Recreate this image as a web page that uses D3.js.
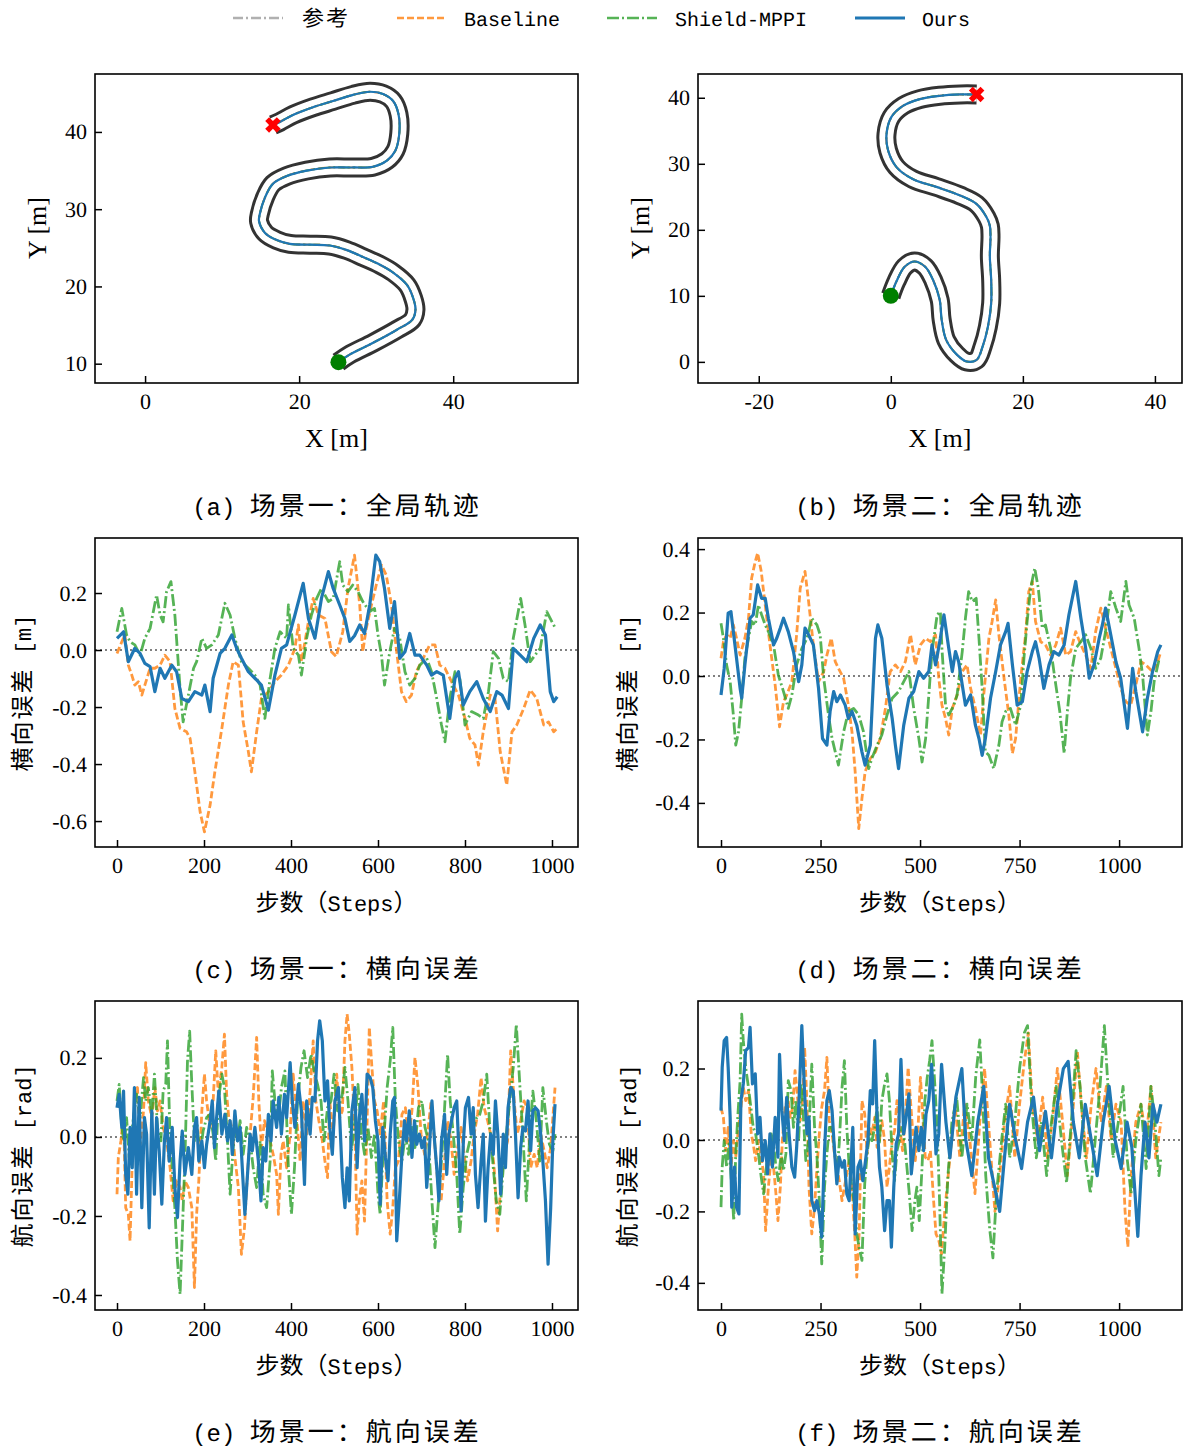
<!DOCTYPE html>
<html>
<head>
<meta charset="utf-8">
<script src="https://cdn.jsdelivr.net/npm/d3@7"></script>
<style>
body { margin: 0; background: #fff; }
text { text-rendering: geometricPrecision; }
</style>
</head>
<body>
<svg id="fig" width="1184" height="1448"></svg>
<script>
// ---- legend / captions ----
const legendLabels = ['参考', 'Baseline', 'Shield-MPPI', 'Ours'];
const captionTags = ['(a)', '(b)', '(c)', '(d)', '(e)', '(f)'];
const captionTexts = ['场景一：全局轨迹', '场景二：全局轨迹', '场景一：横向误差', '场景二：横向误差', '场景一：航向误差', '场景二：航向误差'];

// ---- tick values ----
const trajXTicks1 = [0, 20, 40];
const trajYTicks1 = [10, 20, 30, 40];
const trajXTicks2 = [-20, 0, 20, 40];
const trajYTicks2 = [0, 10, 20, 30, 40];
const stepTicks1 = [0, 200, 400, 600, 800, 1000];
const stepTicks2 = [0, 250, 500, 750, 1000];
const latTicks1 = [-0.6, -0.4, -0.2, 0, 0.2];
const latTicks2 = [-0.4, -0.2, 0, 0.2, 0.4];
const hdgTicks = [-0.4, -0.2, 0, 0.2];

// ---- track centrelines [x, y] in m ----
const track1 = [[25.1,10.2],[26.6,11.2],[29.6,12.7],[32.7,14.4],[34.7,15.7],[35.1,17.0],[34.8,18.5],[34.0,20.2],[32.2,21.8],[30.5,22.8],[28.3,23.8],[26.2,24.7],[24.0,25.3],[21.4,25.4],[18.8,25.5],[17.1,26.0],[15.6,26.9],[14.8,28.4],[14.9,29.4],[15.6,31.6],[16.6,33.3],[18.4,34.3],[21.0,35.0],[24.0,35.4],[27.0,35.4],[29.6,35.5],[31.4,36.3],[32.5,37.6],[33.0,39.8],[32.9,42.3],[32.2,44.0],[30.9,44.9],[29.2,45.2],[27.0,44.8],[24.4,44.0],[21.8,43.2],[19.2,42.2],[17.5,41.3],[16.6,40.9]];
const track2 = [[0.0,10.0],[0.86,12.2],[2.1,14.4],[3.6,15.2],[5.2,14.4],[6.4,12.4],[7.4,9.4],[7.7,6.4],[8.4,3.3],[10.0,1.1],[11.5,0.05],[13.0,0.3],[13.9,2.3],[14.7,5.3],[15.2,8.9],[15.2,12.4],[15.0,16.0],[15.1,19.0],[15.0,20.6],[14.5,21.9],[13.0,23.9],[10.5,25.2],[6.9,26.5],[3.3,27.7],[0.86,29.5],[-0.4,32.0],[-0.65,34.5],[0.1,37.1],[1.9,38.8],[4.4,39.8],[7.4,40.3],[10.5,40.5],[13.0,40.5]];

// ---- lateral error [step, m] ----
const lat1Ours = [[0,0.041],[15,0.064],[26,-0.041],[41,0.006],[53,-0.012],[64,-0.047],[76,-0.058],[87,-0.146],[99,-0.064],[110,-0.099],[126,-0.053],[137,-0.076],[149,-0.170],[164,-0.181],[179,-0.146],[195,-0.158],[202,-0.123],[214,-0.216],[221,-0.099],[237,-0.012],[248,0.006],[264,0.053],[275,0.006],[286,-0.029],[302,-0.076],[317,-0.099],[332,-0.123],[348,-0.211],[363,-0.088],[378,0.006],[390,0.018],[409,0.123],[428,0.234],[440,0.111],[455,0.041],[470,0.181],[486,0.275],[497,0.216],[512,0.158],[524,0.11],[535,0.03],[546,0.05],[558,0.088],[569,0.058],[581,0.158],[595,0.333],[604,0.31],[615,0.216],[627,0.076],[638,0.170],[650,-0.029],[662,-0.006],[673,0.058],[685,-0.018],[696,-0.018],[712,-0.053],[723,-0.088],[735,-0.076],[750,-0.088],[765,-0.240],[777,-0.099],[785,-0.076],[796,-0.193],[811,-0.146],[827,-0.111],[842,-0.170],[858,-0.216],[873,-0.146],[885,-0.158],[900,-0.205],[911,0.006],[927,-0.018],[942,-0.041],[958,0.041],[973,0.088],[985,0.053],[996,-0.146],[1004,-0.181],[1012,-0.164]];
const lat1Base = [[0,-0.012],[11,0.029],[18,0.053],[26,-0.053],[34,-0.088],[41,-0.123],[49,-0.111],[57,-0.158],[64,-0.123],[76,-0.064],[87,-0.064],[99,-0.053],[110,-0.018],[122,-0.041],[133,-0.205],[145,-0.275],[160,-0.287],[168,-0.310],[179,-0.427],[191,-0.567],[201,-0.638],[214,-0.544],[225,-0.427],[241,-0.275],[256,-0.123],[267,-0.041],[279,-0.053],[290,-0.252],[302,-0.357],[309,-0.427],[321,-0.287],[332,-0.170],[348,-0.146],[363,-0.111],[378,-0.088],[394,-0.053],[409,0.006],[417,0.088],[424,-0.041],[440,0.099],[451,0.181],[463,0.123],[478,0.111],[493,-0.006],[504,-0.023],[519,0.064],[531,0.216],[546,0.333],[550,0.275],[558,0.158],[565,-0.006],[573,0.076],[585,0.158],[596,0.228],[608,0.298],[619,0.263],[631,0.158],[642,0.006],[654,-0.146],[665,-0.181],[677,-0.158],[688,-0.076],[704,-0.029],[719,0.018],[731,0.018],[742,-0.053],[754,-0.064],[769,-0.111],[785,-0.158],[800,-0.240],[811,-0.310],[823,-0.333],[831,-0.404],[842,-0.287],[858,-0.158],[869,-0.170],[881,-0.357],[896,-0.474],[908,-0.287],[919,-0.263],[935,-0.205],[950,-0.140],[965,-0.170],[981,-0.263],[992,-0.252],[1004,-0.287],[1012,-0.275]];
const lat1Shield = [[0,0.064],[11,0.146],[22,0.053],[30,0.029],[41,0.018],[53,-0.018],[64,0.041],[76,0.076],[91,0.193],[99,0.123],[106,0.099],[114,0.205],[124,0.240],[133,0.123],[145,-0.135],[152,-0.252],[164,-0.158],[176,-0.064],[183,-0.041],[195,0.041],[206,0.006],[218,0.018],[233,0.053],[248,0.164],[260,0.123],[271,0.041],[286,-0.041],[302,-0.064],[317,-0.088],[329,-0.123],[340,-0.240],[352,-0.099],[363,0.006],[375,0.064],[390,0.041],[394,0.158],[405,0.006],[417,-0.018],[424,-0.088],[436,0.041],[447,0.123],[459,0.181],[470,0.216],[486,0.170],[497,0.181],[512,0.310],[519,0.228],[531,0.205],[542,0.228],[554,0.205],[565,0.170],[581,0.135],[592,0.146],[600,0.053],[608,-0.018],[615,-0.123],[627,-0.006],[638,0.076],[650,0.041],[662,-0.076],[673,-0.123],[685,-0.099],[696,-0.053],[712,-0.029],[723,-0.076],[735,-0.170],[746,-0.263],[754,-0.322],[765,-0.170],[777,-0.076],[788,-0.099],[800,-0.263],[815,-0.216],[831,-0.228],[842,-0.240],[854,-0.146],[865,-0.006],[877,-0.029],[888,-0.099],[900,-0.111],[911,0.041],[928,0.181],[938,0.088],[950,-0.041],[961,-0.018],[973,0.006],[988,0.135],[1000,0.099],[1008,0.076]];

const lat2Ours = [[0,-0.060],[8,0.024],[18,0.198],[25,0.203],[35,0.098],[48,-0.039],[52,-0.070],[60,0.035],[73,0.182],[81,0.193],[92,0.287],[102,0.245],[111,0.245],[119,0.182],[132,0.098],[140,0.119],[149,0.151],[157,0.182],[169,0.140],[182,0.077],[195,-0.018],[203,0.035],[211,0.151],[220,0.130],[232,0.098],[245,-0.039],[255,-0.197],[266,-0.218],[274,-0.112],[283,-0.049],[291,-0.081],[300,-0.060],[312,-0.092],[320,-0.134],[329,-0.112],[341,-0.155],[354,-0.239],[362,-0.281],[375,-0.218],[388,0.119],[394,0.161],[404,0.119],[417,-0.028],[430,-0.134],[438,-0.218],[446,-0.292],[459,-0.155],[472,-0.070],[484,-0.049],[497,0.014],[509,-0.007],[522,0.014],[530,0.098],[539,0.035],[551,0.119],[560,0.193],[572,0.088],[581,0.014],[589,0.077],[597,0.045],[606,-0.028],[614,-0.092],[627,-0.060],[639,-0.155],[648,-0.197],[656,-0.250],[664,-0.197],[677,-0.070],[690,0.014],[702,0.098],[715,0.140],[721,0.166],[732,0.035],[744,-0.092],[757,-0.081],[769,0.014],[782,0.077],[790,0.108],[799,0.056],[811,-0.039],[824,0.035],[836,0.077],[849,0.066],[862,0.098],[874,0.193],[891,0.298],[904,0.182],[916,0.088],[925,-0.007],[937,0.035],[950,0.119],[958,0.161],[966,0.214],[979,0.130],[992,0.045],[1004,-0.007],[1021,-0.165],[1034,0.024],[1042,-0.049],[1059,-0.176],[1071,-0.070],[1084,0.014],[1097,0.077],[1105,0.098]];
const lat2Base = [[0,0.056],[6,0.108],[14,0.130],[23,0.119],[31,0.161],[39,0.119],[48,0.066],[60,0.119],[69,0.182],[77,0.309],[86,0.361],[92,0.388],[101,0.330],[111,0.224],[123,0.098],[136,-0.028],[147,-0.160],[157,-0.081],[165,-0.060],[178,-0.018],[190,0.130],[199,0.277],[211,0.330],[220,0.235],[232,0.098],[245,-0.018],[258,0.014],[266,0.066],[277,0.119],[287,0.045],[295,0.024],[308,-0.007],[320,-0.092],[329,-0.176],[337,-0.302],[346,-0.481],[354,-0.386],[362,-0.302],[375,-0.260],[388,-0.239],[400,-0.197],[413,-0.102],[425,0.014],[438,0.035],[451,0.014],[463,0.045],[476,0.130],[488,0.035],[501,0.098],[514,0.119],[526,0.108],[539,0.130],[547,-0.007],[555,-0.092],[564,-0.134],[572,-0.186],[581,-0.102],[593,-0.060],[606,0.014],[618,0.035],[627,-0.039],[639,-0.102],[652,-0.186],[660,-0.060],[673,0.119],[681,0.172],[690,0.240],[698,0.130],[711,-0.007],[723,-0.123],[732,-0.244],[740,-0.197],[753,-0.007],[765,0.130],[773,0.266],[782,0.298],[790,0.172],[803,0.108],[815,0.098],[828,0.066],[841,0.098],[853,0.151],[866,0.066],[878,0.077],[891,0.140],[904,0.098],[916,0.066],[929,0.024],[941,0.140],[954,0.214],[966,0.151],[979,0.088],[992,0.024],[1004,-0.039],[1017,-0.081],[1029,-0.092],[1042,-0.028],[1055,0.045],[1067,0.035],[1084,0.014],[1097,0.045],[1105,0.077]];
const lat2Shield = [[0,0.166],[6,0.119],[14,0.035],[23,-0.018],[31,-0.123],[37,-0.218],[44,-0.176],[52,-0.070],[60,0.056],[69,0.119],[77,0.172],[86,0.161],[94,0.224],[102,0.193],[111,0.161],[119,0.140],[132,0.098],[144,0.003],[157,-0.049],[169,-0.102],[178,-0.060],[190,0.035],[203,0.087],[216,0.119],[228,0.182],[241,0.161],[249,0.130],[258,-0.007],[270,-0.123],[279,-0.197],[287,-0.239],[295,-0.281],[308,-0.176],[320,-0.112],[333,-0.102],[346,-0.123],[358,-0.176],[371,-0.292],[379,-0.260],[392,-0.218],[404,-0.186],[417,-0.123],[430,-0.070],[446,-0.049],[459,-0.018],[472,0.014],[484,-0.102],[497,-0.197],[505,-0.271],[514,-0.197],[522,-0.060],[530,0.077],[543,0.193],[551,0.203],[555,0.087],[564,-0.092],[572,-0.123],[585,-0.092],[593,-0.060],[606,0.077],[614,0.182],[622,0.266],[631,0.235],[641,0.245],[648,0.119],[656,-0.039],[664,-0.239],[673,-0.250],[685,-0.292],[698,-0.218],[706,-0.144],[715,-0.112],[727,-0.102],[740,-0.155],[753,-0.092],[761,0.056],[769,0.172],[778,0.277],[788,0.340],[797,0.277],[807,0.151],[815,0.161],[828,0.087],[841,-0.028],[851,-0.112],[862,-0.244],[870,-0.112],[878,-0.007],[891,0.087],[904,0.108],[916,0.130],[929,0.087],[941,0.024],[954,0.056],[966,0.140],[979,0.266],[992,0.214],[1004,0.172],[1017,0.298],[1025,0.224],[1038,0.182],[1050,0.087],[1059,0.003],[1071,-0.186],[1080,-0.112],[1088,-0.018],[1101,0.056]];

// ---- heading error: steps and rad values ----
const hdg1OursSteps = [0,5,11,15,20,25,30,35,40,45,51,57,63,68,74,80,86,91,97,103,109,114,120,127,133,139,145,150,156,164,172,178,183,188,195,201,206,214,219,224,229,234,241,248,254,260,265,271,277,283,288,294,300,306,311,317,325,331,336,342,348,354,359,367,372,378,385,390,398,403,409,417,424,431,436,444,449,455,461,466,472,478,484,489,495,501,509,
  518,524,529,534,540,547,552,557,563,569,575,582,588,594,600,605,611,617,623,628,634,638,643,649,655,661,666,672,678,684,689,695,701,707,712,718,724,730,735,740,746,753,758,763,769,775,781,786,791,796,801,808,814,819,824,830,837,842,847,853,859,865,870,876,882,888,893,899,905,911,916,922,928,933,939,945,951,956,962,968,974,979,985,991,997,1002,1007];
const hdg1OursVals = [0.074,0.108,0.024,0.116,-0.095,-0.145,0.024,-0.078,0.125,-0.145,0.100,-0.179,0.049,0.007,-0.230,0.066,-0.145,0.049,-0.035,-0.170,-0.010,0.049,-0.061,0.024,-0.128,-0.204,-0.061,0.015,-0.095,-0.027,-0.095,0.024,0.049,-0.061,-0.010,-0.078,-0.019,0.041,0.091,-0.027,0.049,0.116,0.007,0.057,-0.010,0.041,-0.044,0.066,-0.010,0.024,-0.078,-0.196,-0.095,0.007,-0.035,0.024,-0.061,-0.162,-0.027,-0.061,0.057,-0.010,0.091,0.024,0.100,0.007,0.108,0.049,0.188,0.091,0.024,0.133,0.066,-0.120,0.091,0.007,0.100,0.091,0.243,0.294,0.243,0.091,0.142,0.024,-0.044,0.091,0.125,
  -0.103,-0.179,-0.078,-0.162,0.066,0.125,-0.078,0.049,0.108,-0.010,0.159,0.150,0.125,0.041,-0.010,-0.170,0.024,-0.052,-0.111,0.007,0.091,0.100,-0.263,-0.162,-0.044,0.041,-0.010,0.066,-0.052,0.041,-0.019,0.007,-0.027,-0.002,-0.128,-0.035,0.091,-0.010,-0.078,-0.162,-0.010,0.057,-0.095,0.007,0.041,0.074,0.091,-0.035,-0.187,-0.019,0.074,0.100,0.007,0.074,-0.095,-0.179,-0.061,0.007,-0.213,-0.078,0.007,-0.044,0.091,-0.002,-0.145,0.007,-0.078,0.074,0.125,0.116,0.007,-0.154,-0.027,0.024,0.015,0.091,-0.035,0.066,0.074,0.066,0.007,-0.061,-0.162,-0.322,-0.179,-0.010,0.083];
const hdg1BaseSteps = [0,3,9,15,20,26,30,35,41,47,53,61,66,72,80,87,93,99,106,114,122,129,137,145,150,156,164,172,178,183,188,195,201,206,214,221,227,233,241,247,252,257,264,271,279,286,293,298,306,313,321,326,332,339,344,352,359,367,371,377,382,390,398,405,413,421,428,436,444,451,457,464,470,478,484,489,497,505,512,
  518,524,529,534,540,547,552,557,563,569,575,580,586,592,598,605,613,621,628,634,640,647,655,663,670,678,685,692,699,707,714,722,730,737,745,753,760,768,775,783,791,798,806,814,821,829,837,844,852,859,867,875,882,890,898,905,913,920,928,936,943,951,959,966,974,982,989,997,1002,1007];
const hdg1BaseVals = [-0.145,-0.052,-0.010,0.057,-0.179,-0.196,-0.263,-0.061,0.091,0.125,-0.027,0.066,0.188,0.091,0.049,0.125,0.066,0.091,0.024,-0.010,-0.078,-0.162,-0.111,-0.128,-0.162,-0.111,-0.128,-0.179,-0.381,-0.196,-0.111,0.066,0.159,0.091,0.024,0.091,0.218,0.108,0.176,0.260,0.108,0.049,0.024,-0.052,-0.128,-0.297,-0.230,-0.128,0.007,0.100,0.252,0.091,-0.027,0.041,0.024,-0.010,-0.044,-0.095,-0.196,-0.044,-0.010,-0.078,0.007,0.159,0.049,-0.061,0.091,0.007,0.116,0.243,0.091,0.041,0.007,-0.061,-0.103,0.091,0.007,0.159,0.049,
  0.066,0.243,0.311,0.260,0.176,0.007,-0.246,-0.162,-0.111,-0.213,0.041,0.277,0.176,0.091,0.066,0.007,0.091,-0.162,-0.246,-0.179,-0.078,-0.061,0.057,0.074,-0.010,0.066,0.201,0.125,0.007,-0.044,0.007,0.091,-0.010,-0.111,-0.162,-0.061,0.041,-0.010,-0.095,-0.027,0.024,-0.044,-0.111,-0.061,0.007,0.057,0.150,0.074,0.041,0.007,-0.078,-0.238,-0.128,-0.044,-0.010,0.218,0.091,0.007,0.041,0.091,0.074,-0.078,-0.044,-0.078,0.007,-0.035,-0.078,-0.027,0.049,0.125];
const hdg1ShieldSteps = [0,5,11,17,22,28,34,40,45,53,61,66,72,80,86,93,101,106,112,116,122,127,133,139,145,150,156,162,167,172,178,183,191,198,206,214,221,227,233,241,247,254,260,265,271,277,283,290,298,306,313,321,329,336,344,352,357,363,371,378,386,394,401,408,415,423,430,438,446,453,461,469,476,484,492,499,507,
  518,524,531,539,547,554,562,569,577,585,592,600,605,613,621,628,634,640,647,655,663,670,678,685,693,701,708,716,724,731,739,747,754,760,766,773,781,788,796,804,811,819,827,834,842,850,857,865,872,880,888,895,903,911,918,926,933,941,949,956,964,972,979,987,994,1002,1007];
const hdg1ShieldVals = [0.091,0.133,0.024,-0.019,0.049,-0.052,0.015,0.066,0.108,0.049,0.150,0.091,0.125,0.057,0.159,0.024,-0.010,0.116,0.133,0.243,-0.010,-0.078,-0.179,-0.314,-0.398,-0.246,-0.061,0.192,0.268,0.133,-0.010,0.041,-0.044,0.015,0.049,0.057,0.007,-0.061,0.091,0.159,0.125,-0.010,-0.145,-0.061,0.032,-0.010,0.041,-0.044,0.024,-0.010,-0.078,-0.128,-0.010,-0.145,-0.179,-0.061,0.167,0.091,0.049,0.125,0.167,-0.078,-0.196,-0.078,0.091,0.176,0.218,0.150,0.209,0.167,0.133,0.091,-0.010,0.074,0.091,0.159,0.066,
  0.108,0.176,0.091,-0.035,0.041,0.133,0.007,-0.044,0.024,-0.052,0.007,-0.145,-0.196,-0.010,0.125,0.192,0.277,0.091,-0.010,-0.061,0.007,-0.044,0.024,-0.027,0.074,0.091,0.024,-0.010,-0.162,-0.280,-0.162,-0.044,0.091,0.209,0.091,0.007,-0.095,-0.246,-0.128,-0.044,-0.010,0.024,0.049,0.057,0.091,0.159,0.024,-0.078,-0.162,-0.196,-0.078,0.007,0.091,0.176,0.285,0.133,0.007,-0.162,0.007,0.116,0.041,-0.061,0.125,0.041,-0.019,-0.035,0.007];

const hdg2OursSteps = [0,3,8,14,18,23,27,34,39,45,50,56,62,69,73,79,86,92,98,104,111,117,123,129,136,143,147,153,159,165,171,178,185,190,196,203,210,216,221,228,235,241,247,253,260,266,272,279,285,291,297,304,310,316,322,331,337,344,350,356,362,369,375,381,386,392,398,404,411,417,423,428,434,440,446,452,459,465,472,478,484,490,497,503,509,515,522,529,534,540,547,554,
  565,575,590,605,615,630,645,660,672,685,700,712,725,740,755,770,785,800,815,830,845,860,872,885,900,915,930,945,960,975,990,1005,1020,1032,1040,1047,1055,1065,1075,1085,1095,1105];
const hdg2OursVals = [0.082,0.203,0.278,0.287,0.203,0.063,-0.188,-0.076,-0.188,-0.207,0.110,0.157,0.250,0.259,0.315,0.157,0.185,0.017,0.063,-0.058,-0.002,-0.095,0.017,-0.076,0.063,-0.048,0.240,0.082,-0.002,0.119,0.017,-0.076,-0.104,-0.021,0.110,0.320,0.129,0.017,0.063,-0.170,-0.198,-0.170,-0.207,-0.272,-0.030,0.110,0.138,0.082,-0.030,-0.123,-0.048,-0.076,-0.058,-0.151,-0.170,0.035,-0.263,-0.076,-0.058,-0.114,-0.067,-0.002,0.138,0.101,0.278,0.063,-0.076,-0.132,-0.254,-0.170,-0.170,-0.300,-0.132,-0.011,0.017,0.226,0.017,0.063,0.129,-0.095,-0.030,0.035,-0.030,0.035,-0.030,0.073,0.110,0.212,0.110,-0.039,0.017,0.212,
  0.05,-0.05,0.12,0.2,0.0,-0.1,0.05,0.15,-0.05,-0.12,-0.2,-0.05,0.1,0.0,-0.08,0.05,0.12,-0.03,0.08,-0.05,0.1,0.2,0.22,0.05,-0.05,0.1,0.0,-0.1,0.05,0.15,0.0,-0.08,0.05,-0.02,-0.15,-0.27,-0.1,0.05,-0.05,0.1,0.05,0.1];
const hdg2BaseSteps = [0,6,12,18,25,31,37,44,50,56,62,69,76,81,87,94,101,107,112,119,126,132,138,143,149,154,161,168,174,180,186,193,199,205,210,216,221,228,235,241,247,253,260,266,272,279,285,291,297,304,310,316,322,329,336,341,347,354,361,367,373,379,386,392,398,404,411,417,423,430,436,442,451,456,463,470,476,482,488,495,501,507,513,520,526,534,540,547,554,
  562,575,588,600,612,625,638,650,662,675,688,700,712,725,738,750,762,772,782,795,808,820,832,845,858,870,882,895,905,918,930,942,955,968,980,992,1005,1015,1022,1030,1042,1055,1068,1080,1092,1105];
const hdg2BaseVals = [0.091,0.063,-0.030,0.035,-0.076,-0.002,-0.048,0.035,0.091,0.147,0.110,0.138,0.017,-0.011,-0.058,-0.002,-0.048,-0.095,-0.254,-0.132,-0.048,-0.076,-0.151,-0.226,-0.132,-0.002,0.091,0.119,0.063,0.091,0.194,0.110,0.054,0.110,0.259,0.101,-0.132,-0.263,-0.188,-0.076,0.017,0.091,0.138,0.231,0.054,0.017,-0.039,-0.076,-0.114,-0.170,-0.132,-0.095,-0.058,-0.132,-0.263,-0.384,-0.263,0.110,0.073,-0.039,0.035,0.017,0.063,-0.021,-0.002,0.054,-0.002,-0.132,-0.076,-0.002,0.026,0.110,0.017,-0.030,0.063,0.203,0.110,0.017,-0.058,0.035,0.175,0.063,-0.048,-0.058,-0.030,-0.170,-0.263,-0.281,-0.319,
  -0.2,-0.05,0.1,-0.05,0.1,0.0,-0.15,0.05,0.2,0.0,-0.2,-0.1,0.05,0.15,-0.05,0.1,0.22,0.3,0.1,0.0,0.12,-0.05,0.05,0.2,0.05,-0.1,0.05,0.25,0.1,-0.05,0.1,0.2,0.05,0.15,0.0,0.1,0.05,-0.2,-0.3,-0.1,0.05,0.1,0.0,0.15,-0.05,0.05];
const hdg2ShieldSteps = [0,3,8,14,20,27,32,37,42,48,52,56,62,69,76,81,87,94,101,107,112,119,126,132,138,144,151,157,163,169,176,182,188,195,201,207,213,220,228,235,241,247,253,260,266,272,279,285,291,297,304,310,316,322,329,336,341,347,354,361,367,373,379,386,392,398,404,411,417,423,430,436,442,448,455,461,467,473,480,487,492,498,505,512,518,524,530,537,543,549,555,
  562,570,580,592,605,618,630,640,650,658,665,675,683,692,705,715,725,738,750,762,770,780,792,805,818,830,842,855,868,880,892,902,915,928,940,952,963,972,985,998,1010,1020,1030,1042,1055,1068,1080,1090,1100,1105];
const hdg2ShieldVals = [-0.188,-0.076,-0.002,-0.076,-0.011,-0.132,-0.226,-0.039,0.063,0.166,0.352,0.278,0.203,0.147,0.082,0.035,0.017,-0.039,-0.104,-0.151,-0.095,-0.030,0.017,-0.011,-0.076,-0.114,-0.039,-0.086,-0.039,0.166,0.138,0.035,0.110,-0.002,0.157,0.063,-0.058,-0.002,0.212,0.035,-0.048,-0.170,-0.347,-0.132,-0.039,0.035,0.035,-0.021,-0.095,-0.011,0.147,0.222,0.035,-0.076,-0.132,-0.188,-0.263,-0.300,-0.337,-0.123,-0.039,0.017,-0.002,0.035,0.091,-0.011,0.110,0.157,0.185,0.110,-0.039,-0.114,-0.030,-0.002,0.035,-0.002,-0.076,-0.151,-0.254,-0.170,-0.132,-0.226,-0.076,0.110,0.175,0.222,0.278,0.157,0.035,-0.170,-0.431,
  -0.3,-0.1,0.05,0.12,-0.05,0.1,0.0,0.18,0.28,0.1,-0.1,-0.25,-0.33,-0.15,0.0,0.1,-0.05,0.05,0.2,0.3,0.32,0.1,-0.05,0.05,-0.1,0.05,0.15,0.0,-0.12,0.05,0.25,0.15,-0.05,-0.15,0.0,0.15,0.32,0.15,-0.05,0.05,0.15,-0.05,-0.15,0.0,0.1,-0.08,0.15,0.05,-0.1,-0.05];

// ---- drawing ----
const SERIF = '"Liberation Serif","DejaVu Serif",serif';
const MONO = '"Liberation Mono","DejaVu Sans Mono",monospace';
const CJK = '"Noto Sans CJK SC","Noto Sans CJK JP",sans-serif';

const styles = {
  ref:    {color: '#b0b0b0', opacity: 1,   dash: '10,3,2,3', width: 2},
  base:   {color: '#ff7f0e', opacity: 0.8, dash: '7,3',      width: 2.8},
  shield: {color: '#2ca02c', opacity: 0.8, dash: '12,3,2,3', width: 2.8},
  ours:   {color: '#1f77b4', opacity: 1,   dash: null,       width: 3.2}
};

const svg = d3.select('#fig');
const defs = svg.append('defs');

function pairs(steps, vals) {
  const n = Math.min(steps.length, vals.length);
  return d3.range(n).map(i => [steps[i], vals[i]]);
}

function makePanel(id, box, xDomain, yDomain, xTicks, yTicks, yFmt) {
  const x = d3.scaleLinear().domain(xDomain).range([box.x0, box.x1]);
  const y = d3.scaleLinear().domain(yDomain).range([box.y1, box.y0]);
  defs.append('clipPath').attr('id', 'clip-' + id)
    .append('rect')
    .attr('x', box.x0).attr('y', box.y0)
    .attr('width', box.x1 - box.x0).attr('height', box.y1 - box.y0);
  const g = svg.append('g');
  const plot = g.append('g').attr('clip-path', 'url(#clip-' + id + ')');

  g.append('g')
    .attr('transform', 'translate(0,' + box.y1 + ')')
    .call(d3.axisBottom(x).tickValues(xTicks).tickSizeInner(-7).tickSizeOuter(0)
      .tickPadding(10).tickFormat(d => String(d)))
    .call(a => a.select('.domain').remove())
    .attr('font-family', SERIF).attr('font-size', 22)
    .call(a => a.selectAll('line').attr('stroke-width', 1.5));

  g.append('g')
    .attr('transform', 'translate(' + box.x0 + ',0)')
    .call(d3.axisLeft(y).tickValues(yTicks).tickSizeInner(-7).tickSizeOuter(0)
      .tickPadding(8).tickFormat(yFmt))
    .call(a => a.select('.domain').remove())
    .attr('font-family', SERIF).attr('font-size', 22)
    .call(a => a.selectAll('line').attr('stroke-width', 1.5));

  g.append('rect')
    .attr('x', box.x0).attr('y', box.y0)
    .attr('width', box.x1 - box.x0).attr('height', box.y1 - box.y0)
    .attr('fill', 'none').attr('stroke', '#000').attr('stroke-width', 1.6);
  return {plot, x, y};
}

function drawLine(layer, data, x, y, st, widthOverride, curve) {
  const line = d3.line().x(d => x(d[0])).y(d => y(d[1])).curve(curve || d3.curveLinear);
  const p = layer.append('path').datum(data)
    .attr('d', line)
    .attr('fill', 'none')
    .attr('stroke', st.color)
    .attr('stroke-opacity', st.opacity)
    .attr('stroke-width', widthOverride || st.width)
    .attr('stroke-linejoin', 'round');
  if (st.dash) p.attr('stroke-dasharray', st.dash);
  return p;
}

function trajPanel(id, box, xd, yd, xt, yt, track) {
  const P = makePanel(id, box, xd, yd, xt, yt, d => String(d));
  const curve = d3.curveCatmullRom.alpha(0.5);
  const road = d3.line().x(d => P.x(d[0])).y(d => P.y(d[1])).curve(curve);
  P.plot.append('path').datum(track).attr('d', road)
    .attr('fill', 'none').attr('stroke', '#333').attr('stroke-width', 20)
    .attr('stroke-linejoin', 'round').attr('stroke-linecap', 'butt');
  P.plot.append('path').datum(track).attr('d', road)
    .attr('fill', 'none').attr('stroke', '#fff').attr('stroke-width', 14)
    .attr('stroke-linejoin', 'round').attr('stroke-linecap', 'butt');
  drawLine(P.plot, track, P.x, P.y, styles.ref, 2, curve);
  drawLine(P.plot, track, P.x, P.y, styles.base, 2, curve);
  drawLine(P.plot, track, P.x, P.y, styles.shield, 2, curve);
  drawLine(P.plot, track, P.x, P.y, styles.ours, 2.2, curve);
  const s = track[0], e = track[track.length - 1];
  P.plot.append('circle').attr('cx', P.x(s[0])).attr('cy', P.y(s[1])).attr('r', 8).attr('fill', '#008000');
  P.plot.append('path').attr('d', d3.symbol().type(d3.symbolCross).size(150)())
    .attr('transform', 'translate(' + P.x(e[0]) + ',' + P.y(e[1]) + ') rotate(45)')
    .attr('fill', '#ff0000');
  return P;
}

function errPanel(id, box, xd, yd, xt, yt, base, shield, ours) {
  const P = makePanel(id, box, xd, yd, xt, yt, d => d.toFixed(1));
  P.plot.append('line')
    .attr('x1', box.x0).attr('x2', box.x1).attr('y1', P.y(0)).attr('y2', P.y(0))
    .attr('stroke', '#808080').attr('stroke-width', 2).attr('stroke-dasharray', '2,3');
  drawLine(P.plot, base, P.x, P.y, styles.base);
  drawLine(P.plot, shield, P.x, P.y, styles.shield);
  drawLine(P.plot, ours, P.x, P.y, styles.ours);
  return P;
}

const colL = {x0: 95, x1: 578}, colR = {x0: 698, x1: 1182};
const rows = [{y0: 74, y1: 383}, {y0: 538, y1: 847}, {y0: 1001, y1: 1310}];
const box = (c, r) => Object.assign({}, c, r);

trajPanel('a', box(colL, rows[0]), [-6.5, 56.2], [7.5, 47.5], trajXTicks1, trajYTicks1, track1);
trajPanel('b', box(colR, rows[0]), [-29.2, 44.1], [-3.2, 43.6], trajXTicks2, trajYTicks2, track2);
errPanel('c', box(colL, rows[1]), [-50.6, 1059.8], [-0.691, 0.393], stepTicks1, latTicks1, lat1Base, lat1Shield, lat1Ours);
errPanel('d', box(colR, rows[1]), [-57.8, 1158], [-0.539, 0.435], stepTicks2, latTicks2, lat2Base, lat2Shield, lat2Ours);
errPanel('e', box(colL, rows[2]), [-50.6, 1059.8], [-0.438, 0.344], stepTicks1, hdgTicks,
  pairs(hdg1BaseSteps, hdg1BaseVals), pairs(hdg1ShieldSteps, hdg1ShieldVals), pairs(hdg1OursSteps, hdg1OursVals));
errPanel('f', box(colR, rows[2]), [-57.8, 1158], [-0.476, 0.389], stepTicks2, hdgTicks,
  pairs(hdg2BaseSteps, hdg2BaseVals), pairs(hdg2ShieldSteps, hdg2ShieldVals), pairs(hdg2OursSteps, hdg2OursVals));

// ---- axis labels ----
function mixedText(sel, parts) {
  parts.forEach(p => {
    sel.append('tspan').text(p.t)
      .attr('font-family', p.cjk ? CJK : MONO)
      .attr('font-size', p.size)
      .attr('letter-spacing', p.ls || 0);
  });
  return sel;
}

[colL, colR].forEach(c => {
  const cx = (c.x0 + c.x1) / 2;
  svg.append('text').attr('x', cx).attr('y', 447).attr('text-anchor', 'middle')
    .attr('font-family', SERIF).attr('font-size', 26).text('X [m]');
  [911, 1374].forEach(yb => {
    mixedText(svg.append('text').attr('x', cx).attr('y', yb).attr('text-anchor', 'middle'),
      [{t: '步数（', cjk: true, size: 24}, {t: 'Steps', size: 22}, {t: '）', cjk: true, size: 24}]);
  });
});

[[37, 228], [640, 228]].forEach(([xc, yc]) => {
  svg.append('text').attr('transform', 'translate(' + (xc + 9) + ',' + yc + ') rotate(-90)')
    .attr('text-anchor', 'middle').attr('font-family', SERIF).attr('font-size', 26).text('Y [m]');
});
[[22, 693, '横向误差', ' [m]'], [627, 693, '横向误差', ' [m]'],
 [22, 1156, '航向误差', ' [rad]'], [627, 1156, '航向误差', ' [rad]']].forEach(([xc, yc, zh, unit]) => {
  mixedText(svg.append('text').attr('transform', 'translate(' + (xc + 9) + ',' + yc + ') rotate(-90)')
    .attr('text-anchor', 'middle'),
    [{t: zh, cjk: true, size: 24, ls: 2}, {t: unit, size: 22}]);
});

// ---- captions ----
const capPos = [[337, 515], [940, 515], [337, 978], [940, 978], [337, 1441], [940, 1441]];
capPos.forEach(([cx, yb], i) => {
  mixedText(svg.append('text').attr('x', cx).attr('y', yb).attr('text-anchor', 'middle'),
    [{t: captionTags[i] + ' ', size: 24}, {t: captionTexts[i], cjk: true, size: 26, ls: 3}]);
});

// ---- legend ----
const legendKeys = ['ref', 'base', 'shield', 'ours'];
const legendLineX = [233, 397, 607, 855];
const legendTextX = [302, 464, 675, 922];
const lg = svg.append('g');
legendKeys.forEach((k, i) => {
  const st = styles[k];
  const ln = lg.append('line')
    .attr('x1', legendLineX[i]).attr('x2', legendLineX[i] + 50)
    .attr('y1', 18).attr('y2', 18)
    .attr('stroke', st.color).attr('stroke-opacity', st.opacity)
    .attr('stroke-width', k === 'ours' ? 3 : 2.5);
  if (st.dash) ln.attr('stroke-dasharray', st.dash);
  const isCjk = i === 0;
  lg.append('text').attr('x', legendTextX[i]).attr('y', 26)
    .attr('font-family', isCjk ? CJK : MONO)
    .attr('font-size', isCjk ? 22 : 20)
    .attr('letter-spacing', isCjk ? 2 : 0)
    .text(legendLabels[i]);
});
</script>
</body>
</html>
